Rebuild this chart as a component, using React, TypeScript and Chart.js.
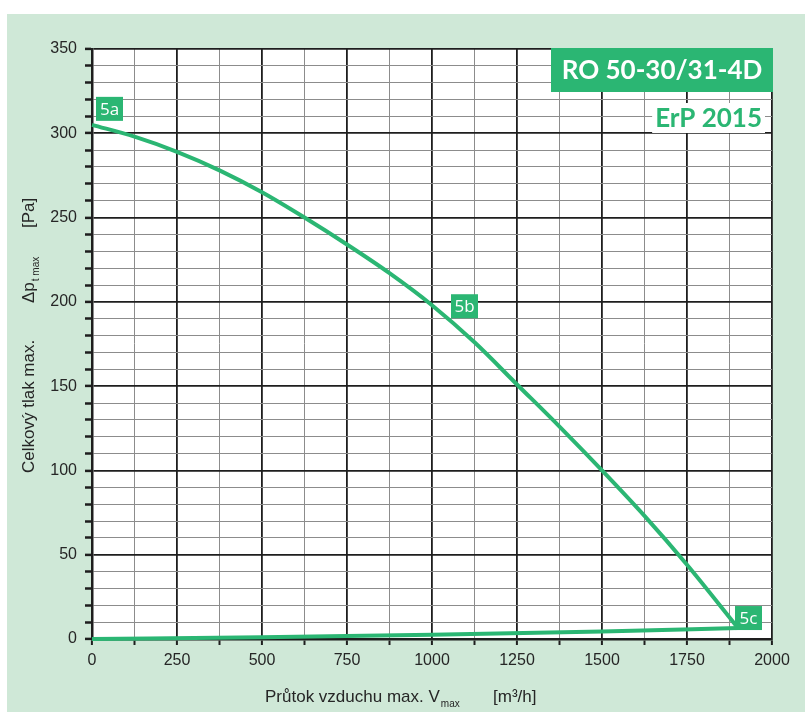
import React, { useEffect, useRef } from 'react';
import { Chart, registerables } from 'chart.js';

Chart.register(...registerables);

// ---- data ----
const fanFlow = [0, 125, 250, 375, 500, 625, 750, 875, 1000, 1125, 1250, 1375, 1500, 1625, 1750, 1900];
const fanPressure = [305, 298, 289, 278, 265, 250, 234, 217, 198, 176, 151, 126, 100, 73, 44, 6.5];
const systemFlow = [0, 500, 1000, 1500, 1900];
const systemPressure = [0, 1, 2.5, 4.5, 6.5];
const pointLabels = ['5a', '5b', '5c'];
const pointFlow = [0, 1000, 1900];
const pointPressure = [305, 198, 6.5];

const xMin = 0;
const xMax = 2000;
const xStep = 125;
const xLabelStep = 250;
const yMin = 0;
const yMax = 350;
const yStep = 10;
const yLabelStep = 50;

const titleText = 'RO 50-30/31-4D';
const subtitleText = 'ErP 2015';
const xTitleMain = 'Průtok vzduchu max. V';
const xTitleSub = 'max';
const xTitleUnit = '[m³/h]';
const yTitleMain = 'Celkový tlak max.';
const yTitleSym = 'Δp';
const yTitleSub = 't max';
const yTitleUnit = '[Pa]';

// ---- styles ----
const GREEN = '#2bb673';
const PANEL = '#cfe8d7';
const MAJOR = '#1e1e1e';
const MINOR = '#8c8c8c';
const TEXT = '#262626';
const FONT = '"Liberation Sans", Arial, sans-serif';

const CANVAS_W = 798;
const CANVAS_H = 698;

// label box offsets relative to the anchored data point (px)
const labelOffsets = [
  { dx: 4, dy: -28 },
  { dx: 19, dy: -11 },
  { dx: -3, dy: -22 },
];

const decorPlugin = {
  id: 'decor',
  beforeDraw(chart: any) {
    const { ctx, chartArea: a } = chart;
    ctx.save();
    ctx.fillStyle = '#ffffff';
    ctx.fillRect(a.left, a.top, a.right - a.left, a.bottom - a.top);
    ctx.restore();
  },
  afterDraw(chart: any) {
    const { ctx, chartArea: a, scales } = chart;
    const xs = scales.x;
    const ys = scales.y;
    ctx.save();

    // point labels
    ctx.font = '17px "Open Sans", sans-serif';
    ctx.textBaseline = 'middle';
    ctx.textAlign = 'center';
    pointLabels.forEach((lab, i) => {
      const px = xs.getPixelForValue(pointFlow[i]);
      const py = ys.getPixelForValue(pointPressure[i]);
      const bx = px + labelOffsets[i].dx;
      const by = py + labelOffsets[i].dy;
      const w = 27;
      const h = 24;
      ctx.fillStyle = GREEN;
      ctx.fillRect(bx, by, w, h);
      ctx.fillStyle = '#ffffff';
      ctx.fillText(lab, bx + w / 2, by + h / 2 + 1);
    });

    // title box
    const tw = 222;
    const th = 44;
    const tx = a.right + 1 - tw;
    const ty = a.top - 1;
    ctx.fillStyle = GREEN;
    ctx.fillRect(tx, ty, tw, th);
    ctx.fillStyle = '#ffffff';
    ctx.font = 'bold 26px Lato, sans-serif';
    ctx.textAlign = 'center';
    ctx.textBaseline = 'middle';
    ctx.fillText(titleText, tx + tw / 2, ty + th / 2 + 1);

    // subtitle
    ctx.font = 'bold 26px Lato, sans-serif';
    const sw = ctx.measureText(subtitleText).width;
    const sr = a.right - 10;
    const sy = a.top + 69;
    ctx.fillStyle = '#ffffff';
    ctx.fillRect(sr - sw - 3, sy - 15, sw + 6, 30);
    ctx.fillStyle = GREEN;
    ctx.textAlign = 'right';
    ctx.fillText(subtitleText, sr, sy + 1);

    // x axis title
    ctx.fillStyle = TEXT;
    ctx.textAlign = 'left';
    ctx.textBaseline = 'alphabetic';
    ctx.font = `17px ${FONT}`;
    const xBase = 688;
    const xStart = 258;
    ctx.fillText(xTitleMain, xStart, xBase);
    const mw = ctx.measureText(xTitleMain).width;
    ctx.font = `10px ${FONT}`;
    ctx.fillText(xTitleSub, xStart + mw + 1, xBase + 5);
    ctx.font = `17px ${FONT}`;
    ctx.fillText(xTitleUnit, 486, xBase);

    // y axis title (rotated)
    ctx.save();
    ctx.translate(27, 0);
    ctx.rotate(-Math.PI / 2);
    ctx.font = `17px ${FONT}`;
    ctx.fillText(yTitleMain, -459, 0);
    ctx.fillText(yTitleSym, -289, 0);
    const dw = ctx.measureText(yTitleSym).width;
    ctx.font = `10px ${FONT}`;
    ctx.fillText(yTitleSub, -289 + dw + 1, 5);
    ctx.font = `17px ${FONT}`;
    ctx.fillText(yTitleUnit, -214, 0);
    ctx.restore();

    ctx.restore();
  },
};

function buildTicks(min: number, max: number, step: number) {
  const t: { value: number }[] = [];
  for (let v = min; v <= max + 1e-9; v += step) t.push({ value: v });
  return t;
}

export default function App() {
  const ref = useRef<HTMLCanvasElement | null>(null);

  useEffect(() => {
    if (!ref.current) return;
    const fanData = fanFlow.map((x, i) => ({ x, y: fanPressure[i] }));
    const sysData = systemFlow.map((x, i) => ({ x, y: systemPressure[i] }));

    const chart = new Chart(ref.current, {
      type: 'line',
      data: {
        datasets: [
          {
            data: fanData,
            borderColor: GREEN,
            borderWidth: 4,
            pointRadius: 0,
            cubicInterpolationMode: 'monotone',
            fill: false,
            clip: false as any,
          },
          {
            data: sysData,
            borderColor: GREEN,
            borderWidth: 4,
            pointRadius: 0,
            cubicInterpolationMode: 'monotone',
            fill: false,
            clip: false as any,
          },
        ],
      },
      options: {
        animation: false,
        responsive: false,
        devicePixelRatio: 1,
        layout: { padding: { left: 0, top: 35, right: 33, bottom: 0 } },
        plugins: {
          legend: { display: false },
          tooltip: { enabled: false },
        },
        scales: {
          x: {
            type: 'linear',
            min: xMin,
            max: xMax,
            afterBuildTicks: (s: any) => {
              s.ticks = buildTicks(xMin, xMax, xStep);
            },
            afterFit: (s: any) => {
              s.height = 73;
            },
            ticks: {
              autoSkip: false,
              maxRotation: 0,
              padding: 6,
              color: TEXT,
              font: { family: FONT, size: 16 },
              callback: (v: any) => (Number(v) % xLabelStep === 0 ? String(v) : ''),
            },
            grid: {
              color: (c: any) => (c.tick && c.tick.value % xLabelStep === 0 ? MAJOR : MINOR),
              lineWidth: (c: any) => (c.tick && c.tick.value % xLabelStep === 0 ? 1.8 : 1),
              drawTicks: true,
              tickLength: 6,
              tickColor: MAJOR,
              tickWidth: 2,
            },
            border: { display: true, color: MAJOR, width: 2.5 },
          },
          y: {
            type: 'linear',
            min: yMin,
            max: yMax,
            afterBuildTicks: (s: any) => {
              s.ticks = buildTicks(yMin, yMax, yStep);
            },
            afterFit: (s: any) => {
              s.width = 85;
            },
            ticks: {
              autoSkip: false,
              padding: 8,
              color: TEXT,
              font: { family: FONT, size: 16 },
              callback: (v: any) => (Number(v) % yLabelStep === 0 ? String(v) : ''),
            },
            grid: {
              color: (c: any) => (c.tick && c.tick.value % yLabelStep === 0 ? MAJOR : MINOR),
              lineWidth: (c: any) => (c.tick && c.tick.value % yLabelStep === 0 ? 1.8 : 1),
              drawTicks: true,
              tickLength: 7,
              tickColor: MAJOR,
              tickWidth: 2.5,
            },
            border: { display: true, color: MAJOR, width: 2.5 },
          },
        },
      } as any,
      plugins: [decorPlugin],
    });
    return () => chart.destroy();
  }, []);

  return (
    <div style={{ position: 'absolute', left: 0, top: 0, width: 805, height: 719, background: '#ffffff' }}>
      <div style={{ position: 'absolute', left: 7, top: 14, width: CANVAS_W, height: CANVAS_H, background: PANEL }}>
        <canvas ref={ref} width={CANVAS_W} height={CANVAS_H} style={{ display: 'block' }} />
      </div>
    </div>
  );
}
